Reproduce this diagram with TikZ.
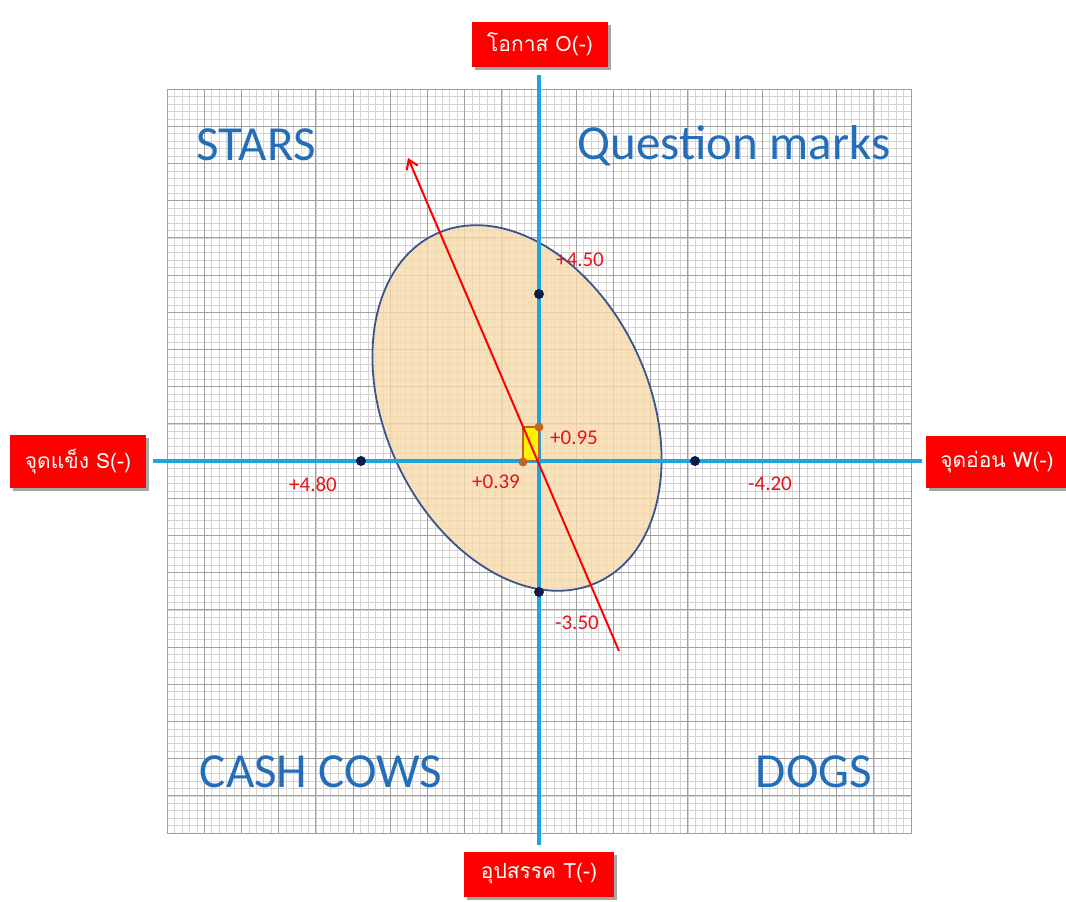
\documentclass[tikz,border=0pt]{standalone}
\usepackage{fontspec}
\setmainfont{Carlito}
\newfontfamily\thaifont[Script=Thai]{Loma}
\usetikzlibrary{arrows.meta,shadows}
\definecolor{minorc}{RGB}{212,212,212}
\definecolor{majorc}{RGB}{160,160,160}
\definecolor{axisc}{RGB}{30,165,225}
\definecolor{ellfill}{RGB}{248,218,170}
\definecolor{elldraw}{RGB}{58,84,140}
\definecolor{quadc}{RGB}{36,110,185}
\definecolor{numc}{RGB}{232,20,27}
\definecolor{dotc}{RGB}{10,28,72}
\definecolor{cornerc}{RGB}{196,98,40}
\tikzset{
  minorline/.style={draw=minorc,line width=0.5pt},
  majorline/.style={draw=majorc,line width=0.9pt},
  axisline/.style={draw=axisc,line width=4.5pt},
  redbox/.style={fill=red,text=white,font=\thaifont\fontsize{21}{24}\selectfont,
    inner sep=0pt,drop shadow={shadow xshift=3pt,shadow yshift=-3pt,opacity=0.35,fill=black}},
  quadlabel/.style={text=quadc,font=\fontsize{49}{55}\selectfont,inner sep=0pt},
  numlabel/.style={text=numc,font=\fontsize{21}{24}\selectfont,inner sep=0pt},
  navydot/.style={circle,fill=dotc,minimum size=10pt,inner sep=0pt},
  cornerdot/.style={circle,fill=cornerc,minimum size=10pt,inner sep=0pt},
}
\begin{document}
\begin{tikzpicture}[x=1pt,y=-1pt]
\useasboundingbox (0,0) rectangle (1066,902);
\fill[white] (0,0) rectangle (1066,902);
% grid
\foreach \i in {0,...,100}{
  \draw[minorline] ({167+\i*7.44},89) -- ({167+\i*7.44},833);
  \draw[minorline] (167,{89+\i*7.44}) -- (911,{89+\i*7.44});
}
\foreach \i in {0,...,20}{
  \draw[majorline] ({167+\i*37.2},89) -- ({167+\i*37.2},833);
  \draw[majorline] (167,{89+\i*37.2}) -- (911,{89+\i*37.2});
}
\draw[majorline] (167,89) rectangle (911,833);
% ellipse
\filldraw[fill=ellfill,fill opacity=0.8,draw=elldraw,line width=1.8pt,rotate around={25:(517,408)}]
  (517,408) ellipse [x radius=132pt,y radius=192pt];
% axes
\coordinate (ytop) at (539,75);
\coordinate (ybot) at (539,845);
\coordinate (xleft) at (153,461);
\coordinate (xright) at (922,461);
\draw[axisline] (ytop) -- (ybot);
\draw[axisline] (xleft) -- (xright);
% small rectangle
\filldraw[fill=yellow,draw=cornerc,line width=1.2pt] (523,427) rectangle (539,461);
% red arrow
\coordinate (astart) at (619,651);
\coordinate (aend) at (408,158);
\draw[red,line width=2pt,-{Straight Barb[length=9pt,width=12pt,line width=2pt]}] (astart) -- (aend);
% dots
\node[navydot] (o) at (539,294) {};
\node[navydot] (s) at (361,461) {};
\node[navydot] (w) at (695,461) {};
\node[navydot] (t) at (539,592) {};
\node[cornerdot,minimum size=9pt] (c1) at (539,427) {};
\node[cornerdot,minimum size=9pt] (c2) at (523,462) {};
% numbers
\node[numlabel] (n1) at (580,260) {+4.50};
\node[numlabel] (n2) at (313,484) {+4.80};
\node[numlabel] (n3) at (770,484) {-4.20};
\node[numlabel] (n4) at (577,623) {-3.50};
\node[numlabel] (n5) at (574,438) {+0.95};
\node[numlabel] (n6) at (496,482) {+0.39};
% quadrant labels
\node[quadlabel] (q1) at (256,145) {STARS};
\node[quadlabel] (q2) at (734,146) {Question marks};
\node[quadlabel] (q3) at (321,772) {CASH COWS};
\node[quadlabel] (q4) at (814,772) {DOGS};
% red boxes
\node[redbox,minimum width=136pt,minimum height=45pt] (bo) at (540,44) {โอกาส O(-)};
\node[redbox,minimum width=136pt,minimum height=53pt] (bs) at (78,461.5) {จุดแข็ง S(-)};
\node[redbox,minimum width=142pt,minimum height=52pt] (bw) at (997,462) {จุดอ่อน W(-)};
\node[redbox,minimum width=150pt,minimum height=45pt] (bt) at (539,874) {อุปสรรค T(-)};
\end{tikzpicture}
\end{document}
